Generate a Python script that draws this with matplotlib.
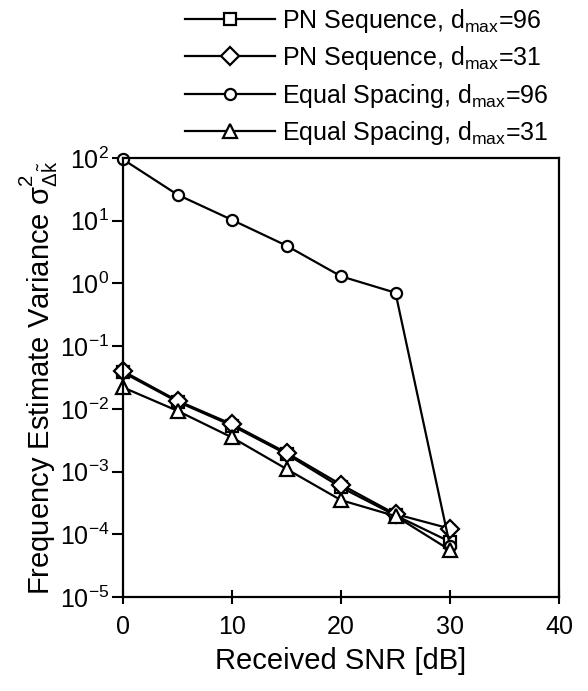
import matplotlib
matplotlib.use('Agg')
import matplotlib.pyplot as plt
from matplotlib.ticker import LogLocator, LogFormatterMathtext, NullLocator

plt.rcParams['font.family'] = ['Liberation Sans', 'DejaVu Sans']
plt.rcParams['mathtext.fontset'] = 'custom'
plt.rcParams['mathtext.rm'] = 'Liberation Sans'
plt.rcParams['mathtext.it'] = 'Liberation Sans:italic'
plt.rcParams['mathtext.bf'] = 'Liberation Sans:bold'

snr = [0, 5, 10, 15, 20, 25, 30]
pn_96 = [0.038, 0.013, 0.0054, 0.0019, 5.6e-4, 2.0e-4, 7.6e-5]
pn_31 = [0.040, 0.0135, 0.0057, 0.0020, 6.2e-4, 2.1e-4, 1.23e-4]
eq_96 = [95, 26, 10.3, 4.0, 1.3, 0.71, 6.5e-5]
eq_31 = [0.022, 0.0093, 0.0035, 0.0011, 3.5e-4, 1.95e-4, 5.6e-5]
labels = [r'PN Sequence, d$_{\mathrm{max}}$=96',
          r'PN Sequence, d$_{\mathrm{max}}$=31',
          r'Equal Spacing, d$_{\mathrm{max}}$=96',
          r'Equal Spacing, d$_{\mathrm{max}}$=31']

fig = plt.figure(figsize=(5.88, 6.91), dpi=100)
ax = fig.add_axes([123 / 588, 1 - 597 / 691, 436 / 588, 439 / 691])

style = dict(color='black', markerfacecolor='white', markeredgecolor='black',
             markeredgewidth=1.6, linewidth=1.6)
h1, = ax.plot(snr, pn_96, marker='s', markersize=9, label=labels[0], **style)
h2, = ax.plot(snr, pn_31, marker='D', markersize=9, label=labels[1], **style)
h3, = ax.plot(snr, eq_96, marker='o', markersize=8, label=labels[2], **style)
h4, = ax.plot(snr, eq_31, marker='^', markersize=10, label=labels[3], **style)
for h in (h1, h2, h3, h4):
    h.set_clip_on(False)

ax.set_yscale('log')
ax.set_xlim(0, 40)
ax.set_ylim(1e-5, 1e2)
ax.set_xticks([0, 10, 20, 30, 40])
ax.yaxis.set_major_locator(LogLocator(base=10, numticks=10))
ax.yaxis.set_major_formatter(LogFormatterMathtext())
ax.yaxis.set_minor_locator(NullLocator())
ax.tick_params(axis='both', which='major', labelsize=18, width=1.5)
ax.tick_params(axis='x', direction='inout', length=10, pad=8)
ax.tick_params(axis='y', direction='out', length=8, pad=2)
for s in ax.spines.values():
    s.set_linewidth(1.6)

ax.set_xlabel('Received SNR [dB]', fontsize=21, labelpad=6)
ax.set_ylabel(r'Frequency Estimate Variance $\mathrm{\sigma}^2_{\Delta\tilde{\mathrm{k}}}$',
              fontsize=21, labelpad=0)

fig.legend(handles=[h1, h2, h3, h4], loc='upper left',
           bbox_to_anchor=(170 / 588, 1.012), frameon=False, fontsize=18,
           handlelength=3.6, handletextpad=0.3, labelspacing=0.38,
           borderpad=0.1)

fig.savefig('out.png', dpi=100)
